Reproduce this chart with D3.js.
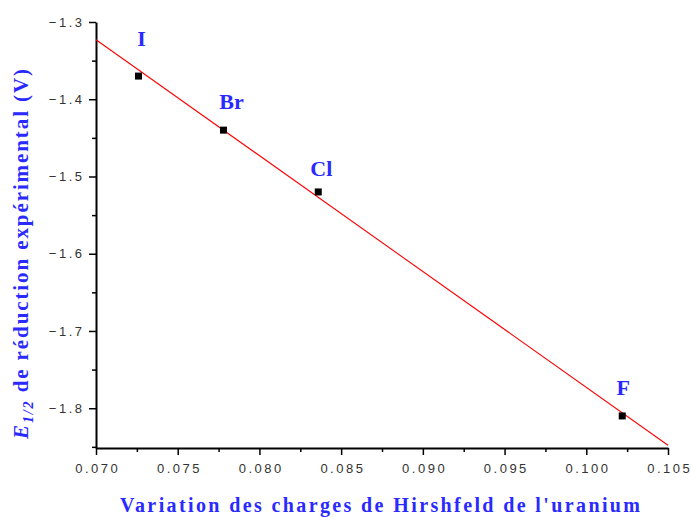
<!DOCTYPE html>
<html><head><meta charset="utf-8">
<script src="https://cdn.jsdelivr.net/npm/d3@7"></script>
<style>body{margin:0;background:#fff}svg{display:block}</style>
</head><body>
<script>
// Data
const halogens = ["I", "Br", "Cl", "F"];
const hirshfeld = [0.0726, 0.0778, 0.0836, 0.1022];
const potentials = [-1.37, -1.44, -1.52, -1.81];
const fitX = [0.070, 0.105];
const fitY = [-1.323, -1.848];
const xTicks = [0.070, 0.075, 0.080, 0.085, 0.090, 0.095, 0.100, 0.105];
const yTicks = [-1.3, -1.4, -1.5, -1.6, -1.7, -1.8];
const xMinor = [0.0725, 0.0775, 0.0825, 0.0875, 0.0925, 0.0975, 0.1025];
const yMinor = [-1.35, -1.45, -1.55, -1.65, -1.75, -1.85];

// Layout (label placement in pixels, relative to each point)
const labelOffset = {I: [3, -30], Br: [8, -21], Cl: [3, -16], F: [1, -21]};

const W = 691, H = 517;
const m = {left: 96, top: 22, right: 23, bottom: 69};
const iw = W - m.left - m.right, ih = H - m.top - m.bottom;
const blue = "#2a2aff";
const serif = "Liberation Serif, Times New Roman, serif";

const svg = d3.select("body").append("svg").attr("width", W).attr("height", H);
const g = svg.append("g").attr("transform", `translate(${m.left},${m.top})`);

const x = d3.scaleLinear().domain([0.070, 0.105]).range([0, iw]);
const y = d3.scaleLinear().domain([-1.8515, -1.3]).range([ih, 0]);

// minor ticks
g.append("g").attr("transform", `translate(0,${ih})`)
  .call(d3.axisBottom(x).tickValues(xMinor).tickSize(4).tickFormat(""))
  .call(a => a.select(".domain").remove())
  .call(a => a.selectAll("line").attr("stroke", "#000").attr("stroke-width", 1.5));
g.append("g")
  .call(d3.axisLeft(y).tickValues(yMinor).tickSize(4).tickFormat(""))
  .call(a => a.select(".domain").remove())
  .call(a => a.selectAll("line").attr("stroke", "#000").attr("stroke-width", 1.5));

// major axes
const xa = g.append("g").attr("transform", `translate(0,${ih})`)
  .call(d3.axisBottom(x).tickValues(xTicks).tickSize(7).tickSizeOuter(0).tickPadding(9).tickFormat(d3.format(".3f")));
const ya = g.append("g")
  .call(d3.axisLeft(y).tickValues(yTicks).tickSize(7).tickSizeOuter(0).tickPadding(7).tickFormat(d3.format(".1f")));
[xa, ya].forEach(a => {
  a.select(".domain").attr("stroke", "#000").attr("stroke-width", 2);
  a.selectAll(".tick line").attr("stroke", "#000").attr("stroke-width", 1.5);
  a.selectAll(".tick text").attr("fill", "#333")
    .style("font-family", "Liberation Sans, Arial, sans-serif")
    .style("font-size", "13px").style("letter-spacing", "2.5px");
});
// compensate trailing letter-spacing for centered/right-aligned labels
xa.selectAll(".tick text").attr("dx", "1.25px");
ya.selectAll(".tick text").attr("dx", "2.5px");

// fit line
g.append("path")
  .datum(fitX.map((d, i) => [d, fitY[i]]))
  .attr("fill", "none").attr("stroke", "#ff0000").attr("stroke-width", 1.1)
  .attr("d", d3.line().x(d => x(d[0])).y(d => y(d[1])));

// points
const pts = halogens.map((h, i) => ({h, x: hirshfeld[i], y: potentials[i]}));
g.selectAll("rect.pt").data(pts).join("rect").attr("class", "pt")
  .attr("x", d => x(d.x) - 3.5).attr("y", d => y(d.y) - 3.5)
  .attr("width", 7).attr("height", 7).attr("fill", "#000");

// labels
g.selectAll("text.lbl").data(pts).join("text").attr("class", "lbl")
  .attr("x", d => x(d.x) + labelOffset[d.h][0]).attr("y", d => y(d.y) + labelOffset[d.h][1])
  .attr("text-anchor", "middle")
  .attr("fill", blue)
  .style("font-family", serif)
  .style("font-weight", "bold").style("font-size", "22px")
  .text(d => d.h);

// x title
svg.append("text")
  .attr("x", 380).attr("y", 512)
  .attr("text-anchor", "middle")
  .attr("textLength", 520).attr("lengthAdjust", "spacing")
  .attr("fill", blue)
  .style("font-family", serif)
  .style("font-weight", "bold").style("font-size", "20px")
  .text("Variation des charges de Hirshfeld de l'uranium");

// y title
const yt = svg.append("text")
  .attr("transform", `translate(28,254) rotate(-90)`)
  .attr("text-anchor", "middle")
  .attr("textLength", 370).attr("lengthAdjust", "spacing")
  .attr("fill", blue)
  .style("font-family", serif)
  .style("font-weight", "bold").style("font-size", "21px");
yt.append("tspan").style("font-style", "italic").text("E");
yt.append("tspan").style("font-style", "italic").style("font-size", "14px").attr("dy", 5).text("1/2");
yt.append("tspan").attr("dy", -5).text(" de réduction expérimental (V)");
</script>
</body></html>
